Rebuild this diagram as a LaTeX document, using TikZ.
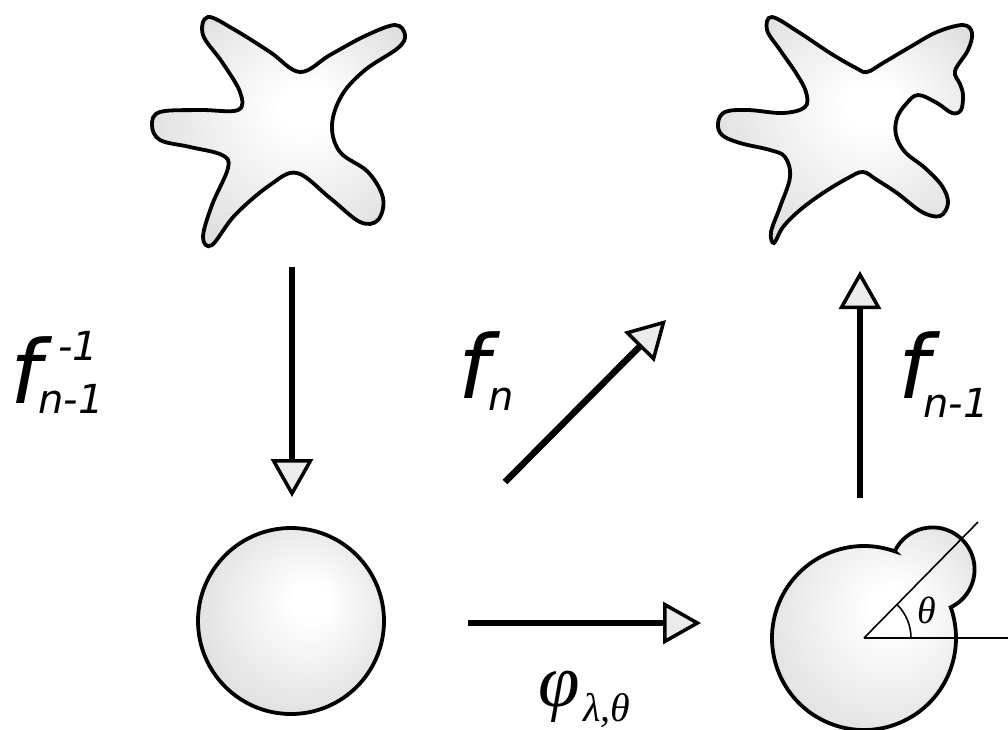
\RequirePackage{fix-cm}
\documentclass[tikz,border=0pt]{standalone}
\usepackage{fontspec}
\usetikzlibrary{arrows.meta}
\newfontfamily\mapfont{DejaVu Sans Oblique}
\newfontfamily\greekfont{Liberation Serif Italic}
\newcommand{\bigsz}{\fontsize{88}{96}\selectfont}
\newcommand{\subsz}{\fontsize{40}{46}\selectfont}
\pgfdeclareradialshading{blobshade}{\pgfpoint{6bp}{6bp}}{color(0bp)=(white); color(5bp)=(white); color(30bp)=(black!13); color(45bp)=(black!16)}
\begin{document}
\begin{tikzpicture}[x=1pt, y=-1pt,
    >={Triangle[length=38pt, width=42pt, line width=3.5pt, fill=black!8]},
    blob/.style={draw, line width=3.8pt, shading=blobshade},
    map/.style={->, line width=6.5pt},
    guide/.style={line width=1.6pt},
    lbl/.style={inner sep=0pt, anchor=base west, font=\mapfont\bigsz},
    sublbl/.style={inner sep=0pt, anchor=base west, font=\mapfont\subsz},
    greek/.style={inner sep=0pt, anchor=base west, font=\greekfont}]
\useasboundingbox (0,0) rectangle (1008,729);

% the two star shapes
\draw[blob] plot[smooth cycle, tension=0.6] coordinates {
  (208,17) (235,30) (270,52) (300,72) (330,55) (365,36) (395,25) (405,35)
  (398,48) (365,70) (342,95) (332,125) (340,152) (368,172) (383,198) (378,220)
  (360,222) (330,198) (297,173) (270,185) (235,215) (212,245) (203,237) (212,205)
  (228,168) (222,155) (190,147) (160,140) (152,125) (160,112) (200,110) (238,110)
  (240,92) (222,62) (203,35)};
\draw[blob] plot[smooth cycle, tension=0.6] coordinates {
  (772,17) (800,33) (830,53) (856,68) (867,72) (883,63) (910,47) (937,32)
  (963,25) (972,33) (968,50) (955,71) (960,84) (963,95) (961,110) (952,113)
  (937,103) (918,95) (906,104) (897,118) (896,135) (905,152) (925,168) (942,186)
  (948,203) (940,216) (922,212) (897,193) (877,180) (863,172) (848,178) (823,193)
  (800,210) (783,227) (774,243) (771,232) (780,207) (790,177) (785,157) (770,150)
  (740,143) (722,135) (718,123) (725,112) (748,110) (783,113) (805,107) (806,92)
  (796,73) (780,50) (767,30)};

% disk and perturbed disk
\coordinate (disk) at (291,621);
\draw[blob] (disk) circle[radius=93];
\coordinate (pert) at (864,638);
\draw[blob] (pert) ++(-70.5:92) arc[start angle=-70.5, end angle=-379.5, radius=92]
  arc[start angle=64.4, end angle=-154.4, radius=42] -- cycle;
\coordinate (ray) at (978,522);
\coordinate (axis) at (1008,638);
\draw[guide] (pert) -- (ray);
\draw[guide] (pert) -- (axis);
\draw[guide] (pert) ++(47,0) arc[start angle=0, end angle=-45, radius=47];
\node[greek, font=\greekfont\fontsize{38}{42}\selectfont] (theta) at (917,623) {θ};

% maps
\coordinate (d0) at (292,267);
\coordinate (d1) at (292,497);
\draw[map] (d0) -- (d1);
\coordinate (g0) at (505,482);
\coordinate (g1) at (666,320);
\draw[map] (g0) -- (g1);
\coordinate (h0) at (468,623);
\coordinate (h1) at (701,623);
\draw[map] (h0) -- (h1);
\coordinate (u0) at (860,498);
\coordinate (u1) at (860,271);
\draw[map] (u0) -- (u1);

% labels
\node[lbl] (finv) at (10,403) {f};
\node[sublbl] (finvsub) at (38,413) {n-1};
\node[sublbl] (finvsup) at (58,360) {-1};
\node[lbl] (fn) at (458,398) {f};
\node[sublbl] (fnsub) at (488,410) {n};
\node[lbl] (fprev) at (898,398) {f};
\node[sublbl] (fprevsub) at (923,417) {n-1};
\node[greek, font=\greekfont\fontsize{75}{80}\selectfont] (phi) at (538,706) {φ};
\node[greek, font=\greekfont\fontsize{40}{44}\selectfont] (phisub) at (583,721) {λ,θ};
\end{tikzpicture}
\end{document}
